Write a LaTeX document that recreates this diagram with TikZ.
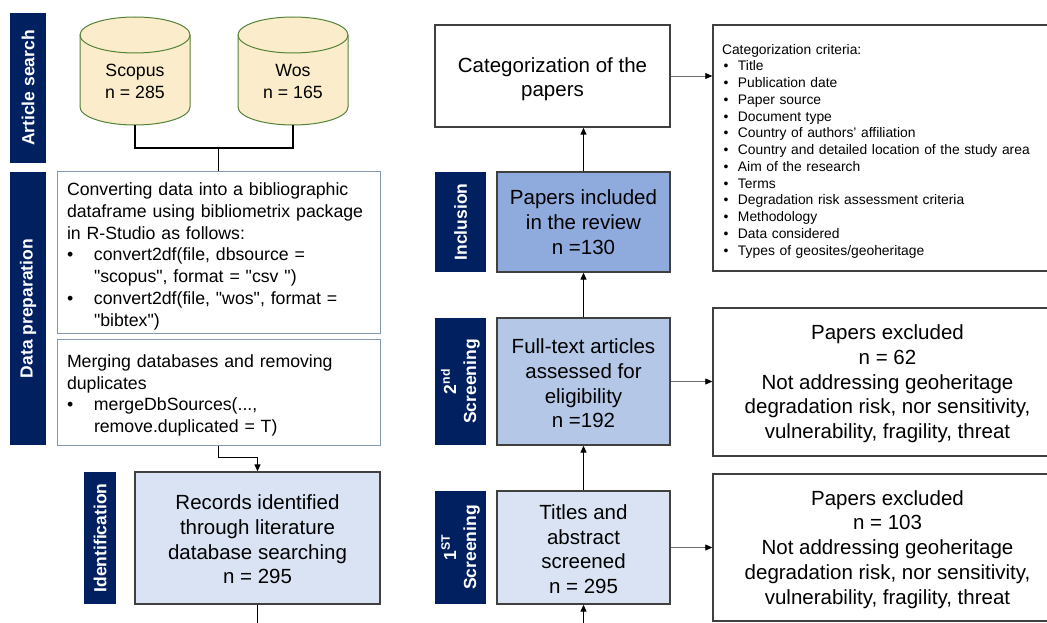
\documentclass[tikz,border=0pt]{standalone}
\usepackage{fontspec}
\setmainfont{Liberation Sans}[Ligatures=TeXOff]
\usetikzlibrary{arrows.meta}
\definecolor{navy}{RGB}{0,32,96}
\definecolor{cylfill}{RGB}{251,237,203}
\definecolor{cylline}{RGB}{84,130,53}
\definecolor{prepline}{RGB}{132,151,176}
\definecolor{lightbl}{RGB}{218,227,243}
\definecolor{midbl}{RGB}{180,199,231}
\definecolor{darkbl}{RGB}{143,170,220}
\definecolor{boxline}{RGB}{64,64,64}
\definecolor{grayline}{RGB}{110,110,110}
\newcommand{\critem}{\hspace*{1.5pt}\makebox[14.5pt][l]{•}}
\begin{document}
\begin{tikzpicture}[x=1pt,y=-1pt,
  bar/.style={fill=navy, text=white, font=\fontsize{17.5}{20}\bfseries\selectfont, rotate=90, align=center, inner sep=0pt},
  mainbox/.style={draw=boxline, line width=1.4pt, align=center, font=\fontsize{20.5}{24.7}\selectfont, inner sep=0pt},
  prepbox/.style={draw=prepline, line width=1pt, align=left, text width=303pt, inner xsep=10pt, inner ysep=0pt, font=\fontsize{17.7}{21.8}\selectfont},
  critbox/.style={draw=boxline, line width=1.4pt, align=left, text width=331pt, inner xsep=9pt, inner ysep=0pt, font=\fontsize{13.85}{16.75}\selectfont},
  cyltxt/.style={align=center, inner sep=0pt, font=\fontsize{17.7}{22}\selectfont},
  cyl/.style={fill=cylfill, draw=cylline, line width=1pt},
  conn/.style={line width=1.3pt, draw=black},
  arr/.style={conn, -{Triangle[length=7pt,width=6pt]}},
  harr/.style={line width=0.8pt, draw=grayline, -{Triangle[length=7pt,width=6pt,black]}},
]
\useasboundingbox (0,0) rectangle (1047,623);

% side bars
\node[bar, minimum width=150pt, minimum height=36pt] (bsearch) at (28,88) {Article search};
\node[bar, minimum width=273pt, minimum height=36pt] (bprep) at (28,308.5) {Data preparation};
\node[bar, minimum width=132pt, minimum height=32pt] (bident) at (100,538) {Identification};
\node[bar, minimum width=100pt, minimum height=51pt] (bincl) at (460.5,222) {Inclusion};
\node[bar, minimum width=127pt, minimum height=51pt] (bscr2) at (460.5,381.5) {2\textsuperscript{nd}\\Screening};
\node[bar, minimum width=113pt, minimum height=51pt] (bscr1) at (460.5,547.5) {1\textsuperscript{ST}\\Screening};

% cylinders
\path[cyl] (80,35) -- (80,107) arc[start angle=180,end angle=360,x radius=55pt,y radius=18pt] -- (190,35) arc[start angle=0,end angle=180,x radius=55pt,y radius=18pt] -- cycle;
\draw[cyl, fill=none] (80,35) arc[start angle=180,end angle=360,x radius=55pt,y radius=18pt];
\path[cyl] (238,35) -- (238,107) arc[start angle=180,end angle=360,x radius=55pt,y radius=18pt] -- (348,35) arc[start angle=0,end angle=180,x radius=55pt,y radius=18pt] -- cycle;
\draw[cyl, fill=none] (238,35) arc[start angle=180,end angle=360,x radius=55pt,y radius=18pt];
\node[minimum width=110pt, minimum height=108pt, inner sep=0pt] (scopus) at (135,71) {};
\node[minimum width=110pt, minimum height=108pt, inner sep=0pt] (wos) at (293,71) {};
\node[cyltxt] (scopust) at (135,81) {Scopus\\n = 285};
\node[cyltxt] (wost) at (293,81) {Wos\\n = 165};

% data preparation
\node[prepbox, minimum height=161pt] (conv) at (218.5,252.5) {\rule{0pt}{20.5pt}Converting data into a bibliographic\\
dataframe using bibliometrix package\\
in R-Studio as follows:\\
\makebox[27pt][l]{•}convert2df(file, dbsource =\\
\hspace*{27pt}"scopus", format = "csv ")\\
\makebox[27pt][l]{•}convert2df(file, "wos", format =\\
\hspace*{27pt}"bibtex")};
\node[prepbox, minimum height=106pt] (merge) at (218.5,392) {\rule{0pt}{19.5pt}Merging databases and removing\\
duplicates\\
\makebox[27pt][l]{•}mergeDbSources(...,\\
\hspace*{27pt}remove.duplicated = T)};

% main boxes
\node[mainbox, fill=lightbl, minimum width=245pt, minimum height=132pt] (rec) at (257.5,538) {\rule{0pt}{18pt}Records identified\\through literature\\database searching\\n = 295};
\node[mainbox, fill=white, minimum width=235pt, minimum height=102pt] (cat) at (552.5,76) {\rule{0pt}{21pt}Categorization of the\\papers};
\node[mainbox, fill=darkbl, minimum width=173pt, minimum height=100pt] (inc) at (583.5,222) {Papers included\\in the review\\n =130};
\node[mainbox, fill=midbl, minimum width=173pt, minimum height=127pt] (full) at (583.5,381.5) {\rule{0pt}{19pt}Full-text articles\\assessed for\\eligibility\\n =192};
\node[mainbox, fill=lightbl, minimum width=173pt, minimum height=113pt] (tit) at (583.5,547.5) {\rule{0pt}{18pt}Titles and\\abstract\\screened\\n = 295};
\node[mainbox, fill=white, minimum width=349pt, minimum height=148pt] (ex1) at (887.5,382) {\rule{0pt}{18.5pt}Papers excluded\\n = 62\\Not addressing geoheritage\\degradation risk, nor sensitivity,\\vulnerability, fragility, threat};
\node[mainbox, fill=white, minimum width=349pt, minimum height=147pt] (ex2) at (887.5,547.5) {\rule{0pt}{18.5pt}Papers excluded\\n = 103\\Not addressing geoheritage\\degradation risk, nor sensitivity,\\vulnerability, fragility, threat};
\node[critbox, minimum height=246pt] (crit) at (887.5,148) {\rule{0pt}{16pt}Categorization criteria:\\
\critem Title\\
\critem Publication date\\
\critem Paper source\\
\critem Document type\\
\critem Country of authors’ affiliation\\
\critem Country and detailed location of the study area\\
\critem Aim of the research\\
\critem Terms\\
\critem Degradation risk assessment criteria\\
\critem Methodology\\
\critem Data considered\\
\critem Types of geosites/geoheritage};

% connectors
\coordinate (jn) at (218.5,148);
\coordinate (recout) at (257.5,623);
\coordinate (titin) at (583.5,623);
\draw[conn] (scopus.south) |- (jn) -| (wos.south);
\draw[conn] (jn) -- (conv.north);
\draw[arr] (merge.south) -- ++(0,12) -| (rec.north);
\draw[conn] (rec.south) -- (recout);
\draw[arr] (titin) -- (tit.south);
\draw[arr] (tit.north) -- (full.south);
\draw[arr] (full.north) -- (inc.south);
\draw[arr] (inc.north) -- (inc.north |- cat.south);
\draw[harr] (cat.east) -- (cat.east -| crit.west);
\draw[harr] (full.east) -- (full.east -| ex1.west);
\draw[harr] (tit.east) -- (tit.east -| ex2.west);
\end{tikzpicture}
\end{document}
